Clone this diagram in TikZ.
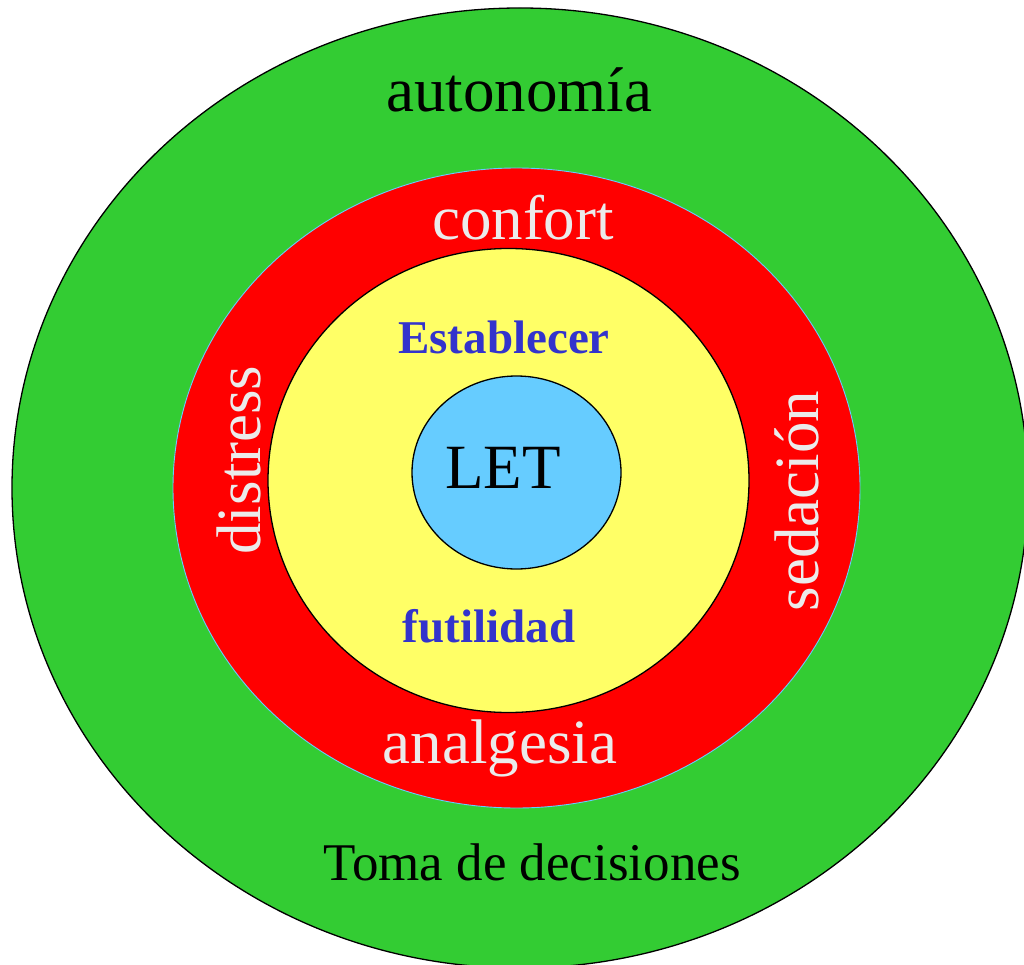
\documentclass[tikz,border=0pt]{standalone}
\usepackage{fontspec}
\setmainfont{Liberation Serif}

\definecolor{verde}{HTML}{33CC33}
\definecolor{rojo}{HTML}{FF0000}
\definecolor{amarillo}{HTML}{FFFF66}
\definecolor{celeste}{HTML}{66CCFF}
\definecolor{azul}{HTML}{3333CC}
\definecolor{blanco}{HTML}{EBEBEB}

\def\grande{\fontsize{63}{70}\selectfont}
\def\mediano{\fontsize{53}{60}\selectfont}
\def\negrita{\fontsize{47}{54}\selectfont\bfseries}

\tikzset{%
  etiqueta/.style={anchor=base, inner sep=0pt, font=\grande},%
  anillo/.style={line width=1.3pt}%
}

\begin{document}
\begin{tikzpicture}[x=1pt,y=-1pt]%
  \useasboundingbox (0,0) rectangle (1024,965);%
  \clip (0,0) rectangle (1024,965);%
  % Rings, from the outside in
  \foreach \cx/\cy/\rx/\ry/\relleno/\borde/\grosor in {%
      520/488/508pt/480pt/verde/black/1.3pt,%
      516.5/488/343.5pt/320pt/rojo/celeste/0.9pt,%
      508.5/480.5/240.5pt/232pt/amarillo/black/1.3pt,%
      516.5/472.5/104.5pt/96.5pt/celeste/black/1.3pt%
    } {%
      \draw[anillo, fill=\relleno, draw=\borde, line width=\grosor]%
        (\cx,\cy) ellipse [x radius=\rx, y radius=\ry];%
    };%
  % Labels
  \node[etiqueta] (autonomia) at (519,112) {autonomía};%
  \node[etiqueta, font=\mediano] (toma) at (532,880) {Toma de decisiones};%
  \node[etiqueta, text=blanco] (confort) at (523,240) {confort};%
  \node[etiqueta, text=blanco] (analgesia) at (500,763) {analgesia};%
  \node[etiqueta, text=blanco, rotate=90] (distress) at (260,460) {distress};%
  \node[etiqueta, text=blanco, rotate=90] (sedacion) at (818,501) {sedación};%
  \node[etiqueta, font=\negrita, text=azul] (establecer) at (504,353) {Establecer};%
  \node[etiqueta, font=\negrita, text=azul] (futilidad) at (489,642) {futilidad};%
  \node[etiqueta] (let) at (503,488) {LET};%
\end{tikzpicture}
\end{document}
